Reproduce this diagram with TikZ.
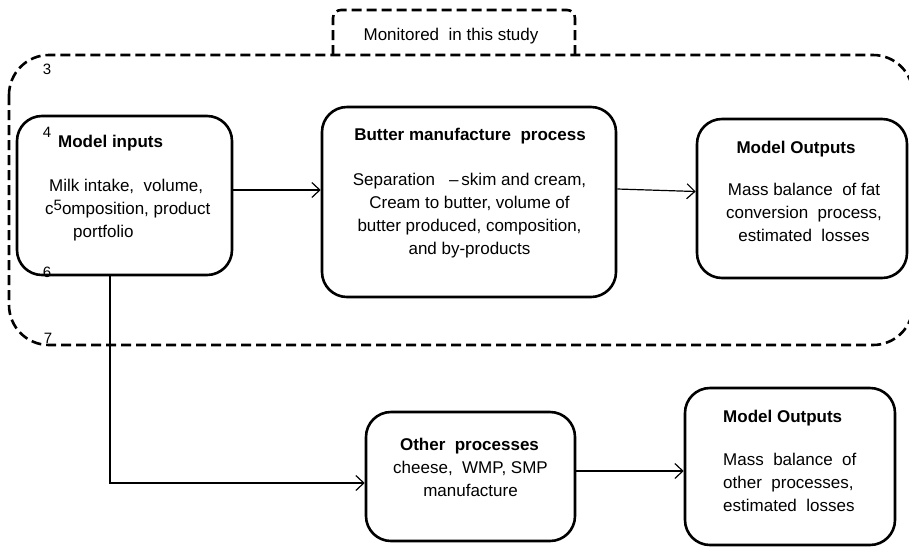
\documentclass[tikz,border=0pt]{standalone}
\usepackage{fontspec}
\setmainfont{Liberation Sans}
\usetikzlibrary{arrows.meta}

\tikzset{
  procbox/.style={draw, line width=2.6pt, rounded corners=25pt, inner sep=0pt},
  zone/.style={line width=2.6pt, dash pattern=on 10pt off 5pt},
  flow/.style={line width=1.2pt, -{Straight Barb[length=8pt,width=15pt]}},
  title/.style={font=\fontsize{17}{23}\selectfont\bfseries, inner sep=0pt},
  body/.style={font=\fontsize{17}{23.2}\selectfont, inner sep=0pt, align=center},
  lnum/.style={font=\fontsize{15}{15}\selectfont, inner sep=0pt}
}

\begin{document}
\begin{tikzpicture}[x=1pt, y=-1pt]
  \useasboundingbox (0,0) rectangle (909,547);

  % Monitored zone
  \draw[zone, rounded corners=40pt] (9,55) rectangle (913,345);
  \draw[zone, rounded corners=8pt] (333,55) -- (333,10) -- (575,10) -- (575,55);
  \node[body, anchor=base] (mon) at (451,40) {Monitored\ \ in this study};

  % Line numbers
  \node[lnum, anchor=base] (n3) at (47,74) {3};
  \node[lnum, anchor=base] (n4) at (47,137) {4};
  \node[lnum, anchor=base] (n6) at (47,277) {6};
  \node[lnum, anchor=base] (n7) at (48,343) {7};

  % Boxes
  \node[procbox, minimum width=215pt, minimum height=159pt] (inputs) at (124.5,195.5) {};
  \node[procbox, minimum width=294pt, minimum height=190pt] (butter) at (469,202) {};
  \node[procbox, minimum width=210pt, minimum height=159pt] (outA) at (802,198.5) {};
  \node[procbox, minimum width=209pt, minimum height=129pt] (other) at (470.5,476.5) {};
  \node[procbox, minimum width=210pt, minimum height=157pt] (outB) at (790,466.5) {};

  % Box texts
  \node[title, anchor=base west] (inT) at (58,147) {Model inputs};
  \node[body, align=left, anchor=north west] (inB) at (45,178.6)
    {\hspace{4pt}Milk intake,\ \ volume,\\c\raisebox{4pt}{\fontsize{15}{15}\selectfont 5}omposition, product\\\hspace{28pt}portfolio};
  \node[title, anchor=base] (buT) at (470,140) {Butter manufacture\ \ process};
  \node[body, anchor=north] (buB) at (469.5,172.6)
    {Separation\ \ \ --\,skim and cream,\\Cream\ to butter,\ volume\ of\\butter produced,\ composition,\\and by-products};
  \node[title, anchor=base] (oaT) at (796,153) {Model Outputs};
  \node[body, anchor=north] (oaB) at (804,182.6)
    {Mass balance\ \ of fat\\conversion\ \ process,\\estimated\ \ losses};
  \node[title, anchor=base] (otT) at (469.5,450) {Other\ \ processes};
  \node[body, anchor=north] (otB) at (470.5,460.6) {cheese,\ \ WMP, SMP\\manufacture};
  \node[title, anchor=base west] (obT) at (723,422) {Model Outputs};
  \node[body, align=left, anchor=north west] (obB) at (723,452.6)
    {Mass\ \ balance\ \ of\\other\ \ processes,\\estimated\ \ losses};

  % Connectors
  \draw[flow] ([yshift=5.5pt]inputs.east) -- ([yshift=5.5pt]inputs.east -| butter.west);
  \draw[flow] ([yshift=13pt]butter.east) -- ([yshift=7pt]outA.west);
  \draw[flow] ([xshift=-14.5pt]inputs.south) |- ([yshift=-6.5pt]other.west);
  \draw[flow] ([yshift=5.5pt]other.east) -- ([yshift=5.5pt]other.east -| outB.west);
\end{tikzpicture}
\end{document}
